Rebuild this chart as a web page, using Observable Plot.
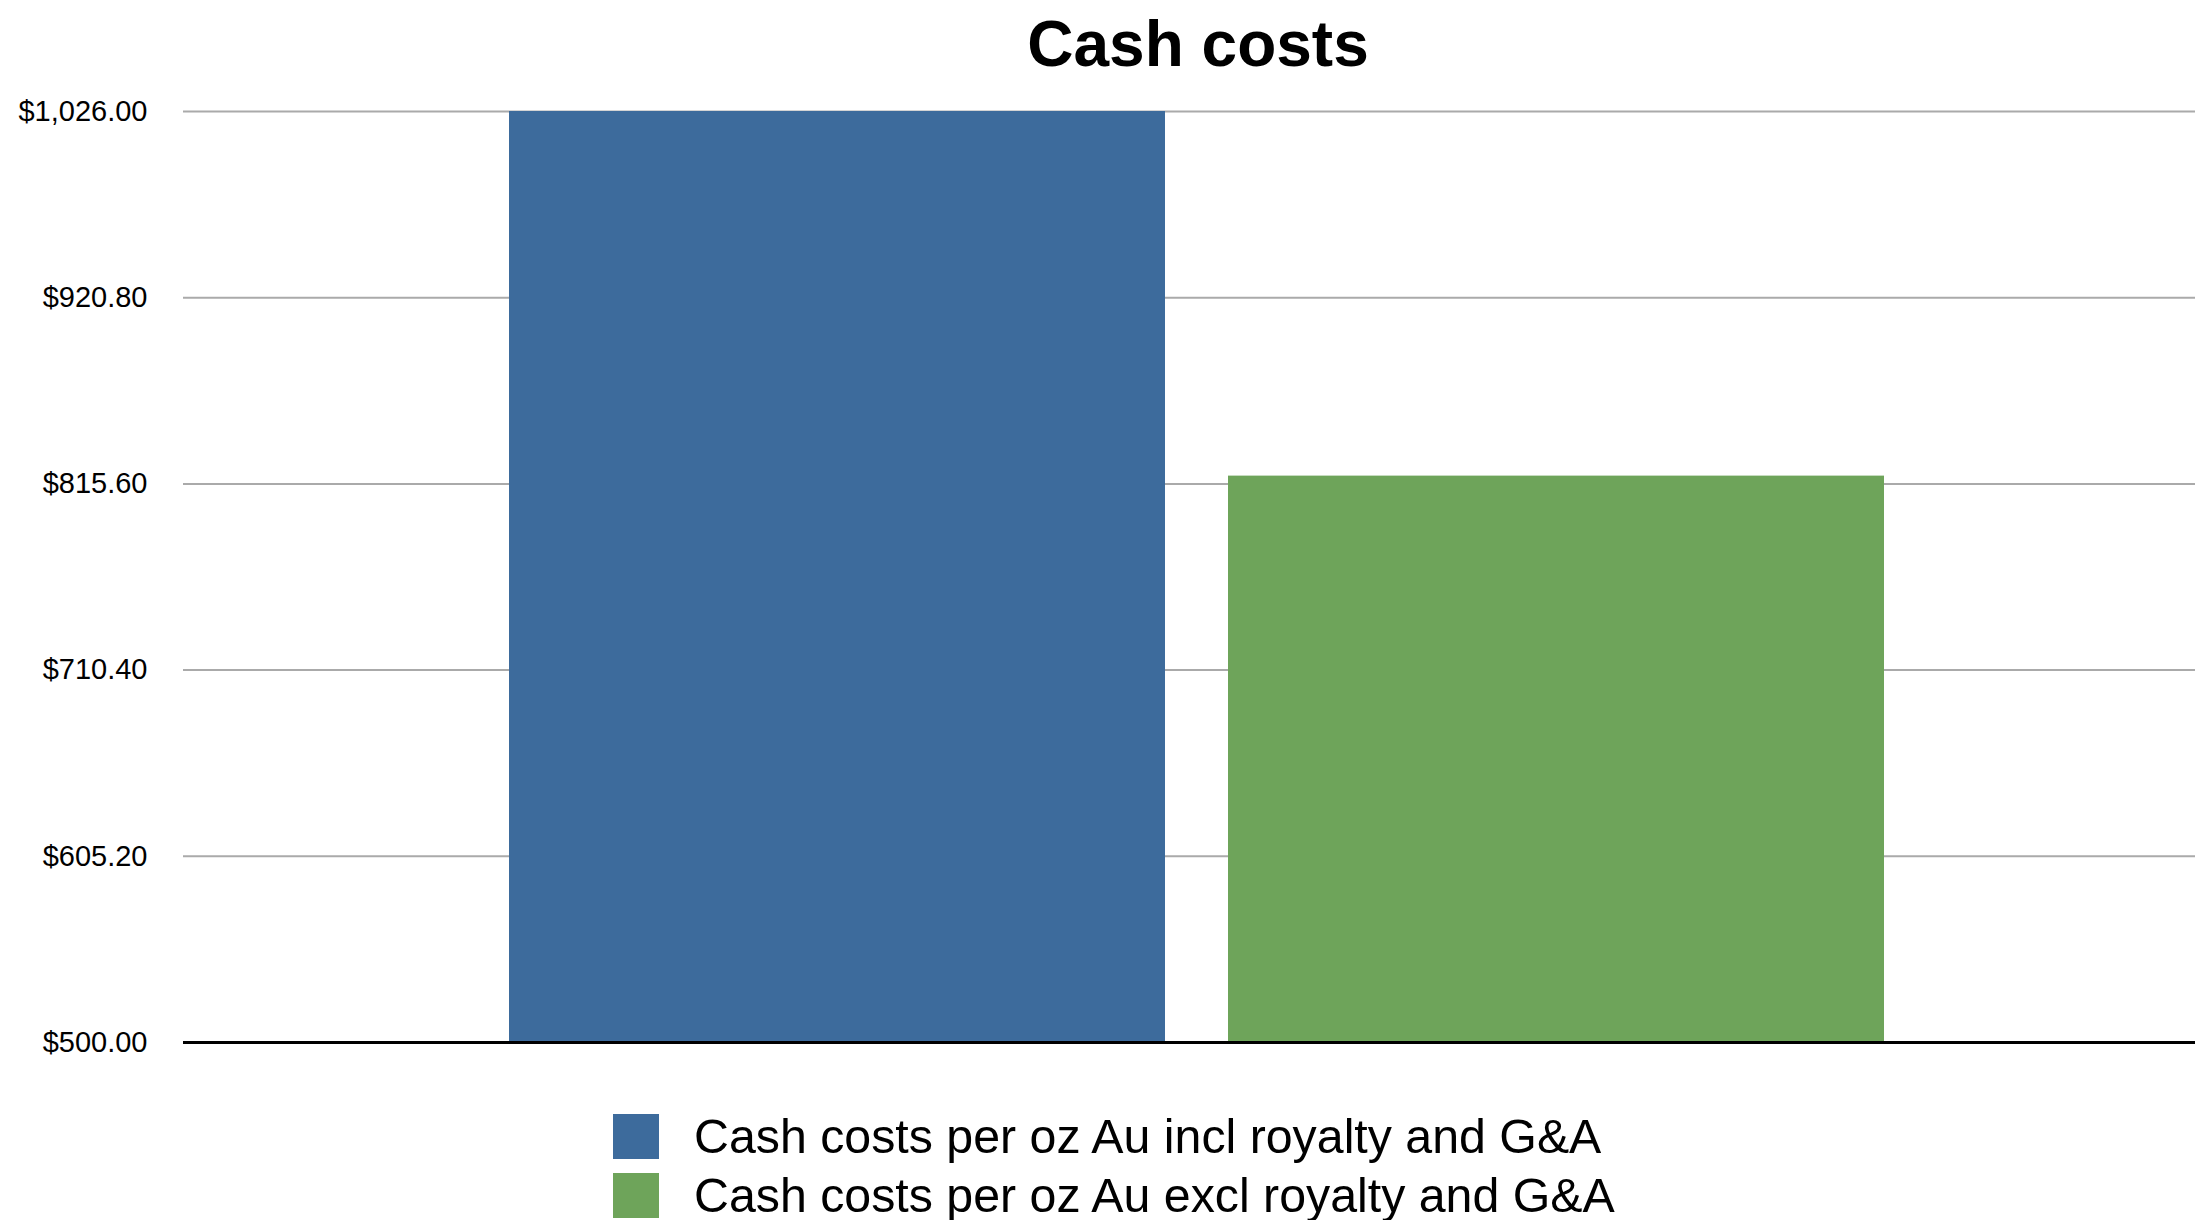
<!DOCTYPE html>
<html><head><meta charset="utf-8">
<script src="https://cdn.jsdelivr.net/npm/d3@7"></script>
<script src="https://cdn.jsdelivr.net/npm/@observablehq/plot@0.6"></script>
<style>
html,body{margin:0;padding:0;background:#fff;}
#wrap{position:relative;width:2195px;height:1220px;overflow:hidden;font-family:"Liberation Sans",Arial,Helvetica,sans-serif;}
#title{position:absolute;left:201px;right:0;top:12px;text-align:center;font-size:64px;font-weight:bold;line-height:1;color:#000;}
#chart{position:absolute;left:0;top:85px;}
#legend{position:absolute;left:613px;top:1114px;}
.row{display:flex;align-items:center;height:45px;margin-bottom:14px;}
.sw{width:46px;height:45px;margin-right:35px;flex:none;}
.lab{font-size:48.3px;line-height:1;white-space:nowrap;color:#000;}
</style>
</head>
<body>
<div id="wrap">
  <div id="title">Cash costs</div>
  <div id="chart"></div>
  <div id="legend"></div>
</div>
<script>
const categories = ["Cash costs per oz Au incl royalty and G&A", "Cash costs per oz Au excl royalty and G&A"];
const values = [1026, 820];
const colors = ["#3d6b9c", "#6ea45a"];
const yTicks = [500, 605.2, 710.4, 815.6, 920.8, 1026];

const data = categories.map((c, i) => ({series: c, value: values[i]}));

const chart = Plot.plot({
  width: 2195,
  height: 980,
  marginLeft: 183,
  marginRight: 0,
  marginTop: 26,
  marginBottom: 23,
  style: {fontFamily: "Liberation Sans, Arial, sans-serif", fontSize: "29px", color: "#000", background: "#fff", overflow: "visible"},
  x: {type: "band", domain: categories, paddingInner: 0.0875, paddingOuter: 0.441, align: 0.512, axis: null},
  y: {domain: [yTicks[0], yTicks[yTicks.length - 1]], label: null},
  color: {domain: categories, range: colors},
  marks: [
    Plot.ruleY(yTicks.slice(1), {stroke: "#aaaaaa", strokeWidth: 2}),
    Plot.barY(data, {x: "series", y1: yTicks[0], y2: "value", fill: "series"}),
    Plot.ruleY([yTicks[0]], {stroke: "#000", strokeWidth: 3}),
    Plot.axisY({ticks: yTicks, tickFormat: d3.format("$,.2f"), tickSize: 0, tickPadding: 36, fontSize: 29, fill: "#000", label: null})
  ]
});
document.getElementById("chart").appendChild(chart);

const legend = document.getElementById("legend");
categories.forEach((c, i) => {
  const row = document.createElement("div");
  row.className = "row";
  const sw = document.createElement("div");
  sw.className = "sw";
  sw.style.background = colors[i];
  const lab = document.createElement("div");
  lab.className = "lab";
  lab.textContent = c;
  row.appendChild(sw);
  row.appendChild(lab);
  legend.appendChild(row);
});
</script>
</body></html>
